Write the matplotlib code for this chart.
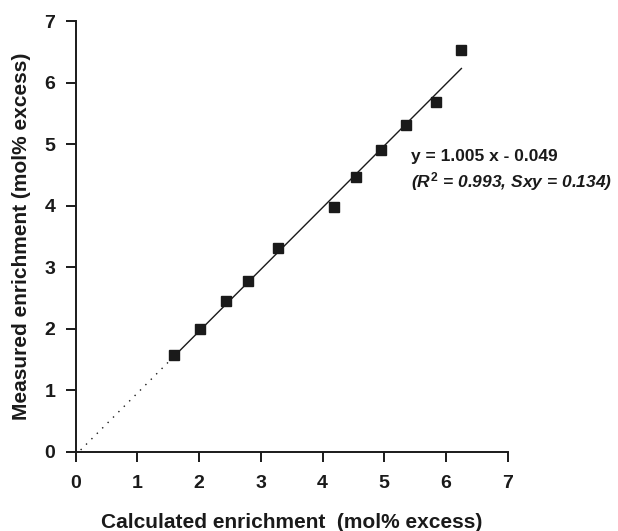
import matplotlib.pyplot as plt
import numpy as np

plt.rcParams['font.family'] = ['Liberation Sans', 'DejaVu Sans']
plt.rcParams['font.weight'] = 'bold'
plt.rcParams['mathtext.fontset'] = 'custom'
plt.rcParams['mathtext.rm'] = 'Liberation Sans:bold'
plt.rcParams['mathtext.it'] = 'Liberation Sans:bold:italic'
plt.rcParams['mathtext.bf'] = 'Liberation Sans:bold'

# calculated vs measured enrichment (mol% excess)
calculated = [1.60, 2.01, 2.43, 2.80, 3.27, 4.19, 4.55, 4.95, 5.36, 5.84, 6.25]
measured = [1.57, 2.00, 2.46, 2.78, 3.32, 3.98, 4.47, 4.91, 5.32, 5.69, 6.53]
slope = 1.005
intercept = -0.049
ticks = [0, 1, 2, 3, 4, 5, 6, 7]

fig = plt.figure(figsize=(6.18, 5.31), dpi=100)
ax = fig.add_axes([0.1225, 0.149, 0.699, 0.811])

# regression line, solid over the data range, dotted back to origin
xs = np.array([min(calculated), max(calculated)])
ax.plot(xs, slope * xs + intercept, color='#1a1a1a', lw=1.0, zorder=2)
xd = np.array([0.08, min(calculated)])
ax.plot(xd, slope * xd + intercept, color='#1a1a1a', lw=1.0,
        linestyle=(0, (1, 4.5)), zorder=2)

ax.plot(calculated, measured, 's', color='#1a1a1a', markersize=7.5, zorder=3)

ax.set_xlim(0, 7)
ax.set_ylim(0, 7)
ax.set_xticks(ticks)
ax.set_yticks(ticks)
ax.tick_params(direction='out', length=7.2, width=1.4, labelsize=14,
               color='#1a1a1a', labelcolor='#1a1a1a')
ax.tick_params(axis='x', pad=9.5)
ax.tick_params(axis='y', pad=7.5)
for s in ['top', 'right']:
    ax.spines[s].set_visible(False)
for s in ['left', 'bottom']:
    ax.spines[s].set_linewidth(1.4)
    ax.spines[s].set_color('#1a1a1a')

ax.set_xlabel('Calculated enrichment  (mol% excess)', fontsize=15,
              fontweight='bold', labelpad=15, color='#1a1a1a')
ax.set_ylabel('Measured enrichment (mol% excess)', fontsize=15,
              fontweight='bold', labelpad=10, color='#1a1a1a')

ax.text(5.44, 4.80, 'y = 1.005 x - 0.049', fontsize=12.5, fontweight='bold',
        color='#1a1a1a', ha='left', va='center', clip_on=False)
ax.text(5.44, 4.39, r'($R^{2}$ = 0.993, Sxy = 0.134)', fontsize=12.5,
        fontweight='bold', style='italic', color='#1a1a1a', ha='left',
        va='center', clip_on=False)

fig.savefig('out.png', dpi=100)
